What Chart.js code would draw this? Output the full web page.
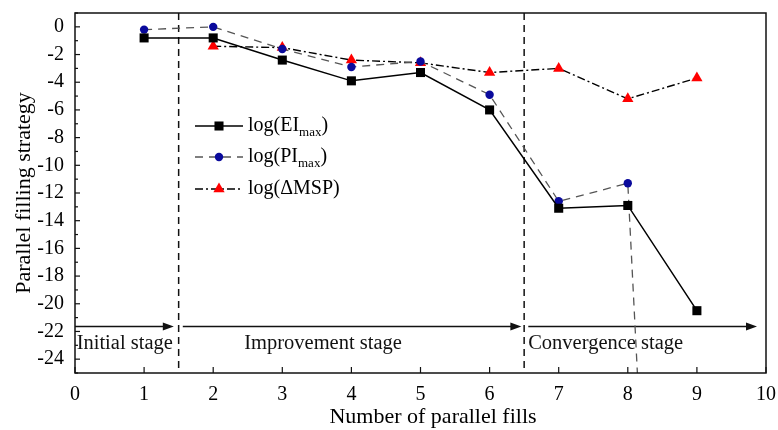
<!DOCTYPE html>
<html>
<head>
<meta charset="utf-8">
<script src="https://cdn.jsdelivr.net/npm/chart.js@4.4.0/dist/chart.umd.min.js"></script>
<style>
  html, body { margin: 0; padding: 0; background: #fff; }
  #wrap { width: 778px; height: 430px; position: relative; }
</style>
</head>
<body>
<div id="wrap"><canvas id="chart-line"></canvas></div>
<script>
// so lan dien song song (truc x)
const fills = [1, 2, 3, 4, 5, 6, 7, 8, 9];
const logEI = [-0.8, -0.8, -2.4, -3.9, -3.3, -6.0, -13.1, -12.9, -20.5];
const logPI = [-0.2, 0.0, -1.6, -2.9, -2.5, -4.9, -12.6, -11.3, -110];
const logMSP = [null, -1.4, -1.5, -2.4, -2.6, -3.3, -3.0, -5.2, -3.7];

const xTicks = [0, 1, 2, 3, 4, 5, 6, 7, 8, 9, 10];
const yTicks = [0, -2, -4, -6, -8, -10, -12, -14, -16, -18, -20, -22, -24];

// cac giai doan
const stageBounds = [1.5, 6.5];
const stageArrows = [[0, 1.43], [1.56, 6.46], [6.56, 9.87]];
const arrowLevel = -21.65;
const stageNames = ['Initial stage', 'Improvement stage', 'Convergence stage'];
const stageCenters = [0.72, 3.59, 7.68];
const stageLevel = -22.9;

const FONT = "'Liberation Serif', 'Times New Roman', serif";

function toPoints(vals) {
  return fills.map((x, i) => ({ x: x, y: vals[i] }));
}

const decor = {
  id: 'decor',
  beforeDatasetsDraw(chart) {
    const { ctx, chartArea: a, scales: { x, y } } = chart;
    ctx.save();
    // duong chia giai doan
    ctx.strokeStyle = '#111';
    ctx.lineWidth = 1.5;
    ctx.setLineDash([7, 5]);
    stageBounds.forEach(b => {
      const px = x.getPixelForValue(b);
      ctx.beginPath();
      ctx.moveTo(px, a.top);
      ctx.lineTo(px, a.bottom);
      ctx.stroke();
    });
    ctx.setLineDash([]);
    // mui ten
    const py = y.getPixelForValue(arrowLevel);
    ctx.fillStyle = '#111';
    stageArrows.forEach(s => {
      const x0 = x.getPixelForValue(s[0]);
      const x1 = x.getPixelForValue(s[1]);
      ctx.beginPath();
      ctx.moveTo(x0, py);
      ctx.lineTo(x1 - 8, py);
      ctx.stroke();
      ctx.beginPath();
      ctx.moveTo(x1, py);
      ctx.lineTo(x1 - 11, py - 4);
      ctx.lineTo(x1 - 11, py + 4);
      ctx.closePath();
      ctx.fill();
    });
    // chu giai doan
    ctx.font = '20.5px ' + FONT;
    ctx.textAlign = 'center';
    ctx.textBaseline = 'middle';
    stageNames.forEach((t, i) => {
      ctx.fillText(t, x.getPixelForValue(stageCenters[i]), y.getPixelForValue(stageLevel));
    });
    ctx.restore();
  },
  afterDraw(chart) {
    const { ctx, chartArea: a, scales: { x, y } } = chart;
    ctx.save();
    // khung
    ctx.strokeStyle = '#111';
    ctx.lineWidth = 1.5;
    ctx.strokeRect(a.left, a.top, a.right - a.left, a.bottom - a.top);
    // vach chia huong vao trong
    ctx.lineWidth = 1.2;
    for (let v = -25; v <= 1; v++) {
      const py = y.getPixelForValue(v);
      const len = v % 2 === 0 ? 5 : 3;
      ctx.beginPath();
      ctx.moveTo(a.left, py);
      ctx.lineTo(a.left + len, py);
      ctx.stroke();
    }
    xTicks.forEach(v => {
      const px = x.getPixelForValue(v);
      ctx.beginPath();
      ctx.moveTo(px, a.bottom);
      ctx.lineTo(px, a.bottom - 6);
      ctx.stroke();
    });
    // tieu de truc x
    ctx.fillStyle = '#000';
    ctx.font = '22px ' + FONT;
    ctx.textAlign = 'center';
    ctx.textBaseline = 'middle';
    ctx.fillText('Number of parallel fills', 433, 417);
    // chu thich
    const items = [
      { main: 'log(EI', sub: 'max', style: 'rect', r: 6.4, color: '#000', dash: [], lc: '#000' },
      { main: 'log(PI', sub: 'max', style: 'circle', r: 4.2, color: '#0a0a9c', dash: [8, 6], lc: '#555' },
      { main: 'log(\u0394MSP', sub: '', style: 'triangle', r: 6.5, color: '#ff0000', dash: [8, 3, 2, 3], lc: '#000' }
    ];
    const lx0 = 195, lx1 = 243, tx = 248;
    const rows = [126, 157, 189];
    items.forEach((it, i) => {
      const ly = rows[i];
      ctx.strokeStyle = it.lc;
      ctx.lineWidth = 1.5;
      ctx.setLineDash(it.dash);
      ctx.beginPath();
      ctx.moveTo(lx0, ly);
      ctx.lineTo(lx1, ly);
      ctx.stroke();
      ctx.setLineDash([]);
      ctx.fillStyle = it.color;
      ctx.strokeStyle = it.color;
      Chart.helpers.drawPoint(ctx, { pointStyle: it.style, radius: it.r, rotation: 0, borderWidth: 0 }, (lx0 + lx1) / 2, ly);
      ctx.fillStyle = '#000';
      ctx.textAlign = 'left';
      ctx.textBaseline = 'middle';
      ctx.font = '20px ' + FONT;
      let cx = tx;
      ctx.fillText(it.main, cx, ly);
      cx += ctx.measureText(it.main).width;
      if (it.sub) {
        ctx.font = '13px ' + FONT;
        ctx.fillText(it.sub, cx, ly + 7);
        cx += ctx.measureText(it.sub).width;
        ctx.font = '20px ' + FONT;
      }
      ctx.fillText(')', cx, ly);
    });
    ctx.restore();
  }
};

const ctx = document.getElementById('chart-line');
new Chart(ctx, {
  type: 'line',
  data: {
    datasets: [
      {
        label: 'log(EImax)',
        data: toPoints(logEI),
        borderColor: '#000',
        backgroundColor: '#000',
        borderWidth: 1.5,
        pointStyle: 'rect',
        pointRadius: 6.4,
        pointBorderWidth: 0,
        tension: 0
      },
      {
        label: 'log(PImax)',
        data: toPoints(logPI),
        borderColor: '#555',
        backgroundColor: '#0a0a9c',
        borderWidth: 1.3,
        borderDash: [8, 6],
        pointStyle: 'circle',
        pointRadius: 4.2,
        pointBorderWidth: 0,
        tension: 0
      },
      {
        label: 'log(ΔMSP)',
        data: toPoints(logMSP),
        borderColor: '#000',
        backgroundColor: '#ff0000',
        borderWidth: 1.4,
        borderDash: [8, 3, 2, 3],
        pointStyle: 'triangle',
        pointRadius: 6.5,
        pointBorderWidth: 0,
        tension: 0
      }
    ]
  },
  options: {
    responsive: true,
    maintainAspectRatio: false,
    animation: false,
    layout: { padding: { top: 13, right: 12, left: 0, bottom: 0 } },
    scales: {
      x: {
        type: 'linear',
        min: 0,
        max: 10,
        afterBuildTicks: s => { s.ticks = xTicks.map(v => ({ value: v })); },
        afterFit: s => { s.height = 57; s.paddingLeft = 0; s.paddingRight = 0; },
        grid: { display: false, drawTicks: false },
        border: { display: false },
        ticks: { color: '#000', padding: 10, font: { family: FONT, size: 20 } },
        title: { display: false }
      },
      y: {
        min: -25,
        max: 1,
        afterBuildTicks: s => { s.ticks = yTicks.map(v => ({ value: v })); },
        afterFit: s => { s.width = 75; s.paddingTop = 0; s.paddingBottom = 0; },
        grid: { display: false, drawTicks: false },
        border: { display: false },
        ticks: { color: '#000', padding: 11, font: { family: FONT, size: 20 } },
        title: {
          display: true,
          text: 'Parallel filling strategy',
          color: '#000',
          padding: { top: 11, bottom: 0 },
          font: { family: FONT, size: 22 }
        }
      }
    },
    plugins: {
      legend: { display: false },
      tooltip: { enabled: false }
    }
  },
  plugins: [decor]
});
</script>
</body>
</html>
